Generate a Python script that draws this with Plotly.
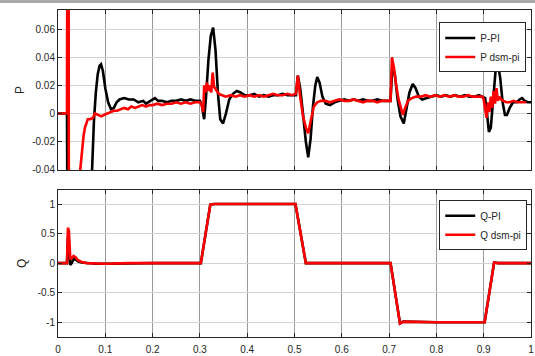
import plotly.graph_objects as go
from plotly.subplots import make_subplots

# ---------------- data ----------------
t_p_pi = [0, 0.019, 0.021, 0.03, 0.06, 0.068, 0.072, 0.076, 0.08, 0.084, 0.088, 0.091, 0.095, 0.1, 0.106, 0.112, 0.118,
          0.124, 0.13, 0.14, 0.15, 0.16, 0.17, 0.18, 0.186, 0.195, 0.205, 0.212, 0.22, 0.23, 0.24, 0.25, 0.26, 0.27,
          0.28, 0.29, 0.3, 0.304, 0.309, 0.313, 0.318, 0.323, 0.328, 0.333, 0.338, 0.343, 0.349, 0.355, 0.362, 0.37,
          0.378, 0.386, 0.395, 0.405, 0.415, 0.425, 0.435, 0.445, 0.455, 0.465, 0.475, 0.485, 0.495, 0.503, 0.507,
          0.512, 0.518, 0.524, 0.529, 0.534, 0.539, 0.544, 0.548, 0.553, 0.559, 0.566, 0.575, 0.585, 0.595, 0.605,
          0.615, 0.625, 0.635, 0.645, 0.655, 0.665, 0.675, 0.685, 0.695, 0.703, 0.707, 0.712, 0.718, 0.724, 0.731,
          0.737, 0.743, 0.75, 0.756, 0.763, 0.77, 0.78, 0.79, 0.8, 0.81, 0.82, 0.83, 0.84, 0.85, 0.86, 0.87, 0.88,
          0.89, 0.898, 0.903, 0.907, 0.911, 0.915, 0.92, 0.925, 0.93, 0.935, 0.94, 0.945, 0.949, 0.955, 0.962,
          0.97, 0.976, 0.981, 0.987, 0.993, 1.0]
p_pi = [0, 0, -0.15, -0.2, -0.2, -0.12, -0.04, -0.005, 0.015, 0.028, 0.034, 0.035, 0.03, 0.018, 0.008, 0.003, 0.004,
        0.008, 0.01, 0.011, 0.01, 0.01, 0.008, 0.009, 0.007, 0.009, 0.011, 0.009, 0.009, 0.008, 0.009, 0.009, 0.01,
        0.009, 0.01, 0.009, 0.009, 0.006, -0.004, 0.012, 0.038, 0.055, 0.061, 0.045, 0.015, -0.004, -0.007, 0.0,
        0.01, 0.014, 0.016, 0.015, 0.013, 0.013, 0.014, 0.012, 0.013, 0.012, 0.013, 0.013, 0.014, 0.013, 0.013,
        0.013, 0.027, 0.018, 0.0, -0.02, -0.031, -0.018, 0.005, 0.02, 0.026, 0.022, 0.012, 0.007, 0.006, 0.008,
        0.009, 0.01, 0.009, 0.01, 0.009, 0.01, 0.009, 0.009, 0.01, 0.009, 0.009, 0.009, 0.034, 0.028, 0.01, -0.002,
        -0.007, 0.003, 0.015, 0.021, 0.018, 0.012, 0.01, 0.011, 0.012, 0.013, 0.012, 0.013, 0.012, 0.013, 0.012,
        0.013, 0.012, 0.012, 0.013, 0.012, 0.011, 0.0, -0.013, -0.01, 0.01, 0.03, 0.036, 0.025, 0.008, -0.001,
        -0.001, 0.004, 0.008, 0.008, 0.01, 0.011, 0.009, 0.008, 0.008]

t_p_dsm = [0, 0.019, 0.0205, 0.022, 0.0235, 0.025, 0.04, 0.047, 0.051, 0.054, 0.057, 0.06, 0.063, 0.068, 0.074, 0.078,
           0.085, 0.092, 0.097, 0.103, 0.11, 0.118, 0.125, 0.132, 0.14, 0.148, 0.155, 0.163, 0.17, 0.178, 0.186,
           0.194, 0.2, 0.21, 0.22, 0.23, 0.24, 0.25, 0.26, 0.27, 0.28, 0.29, 0.3, 0.304, 0.307, 0.309, 0.312, 0.315,
           0.318, 0.321, 0.324, 0.327, 0.33, 0.334, 0.34, 0.347, 0.355, 0.365, 0.375, 0.385, 0.395, 0.405, 0.415,
           0.425, 0.435, 0.445, 0.455, 0.465, 0.475, 0.485, 0.495, 0.503, 0.507, 0.512, 0.518, 0.524, 0.529, 0.535,
           0.541, 0.548, 0.556, 0.565, 0.575, 0.585, 0.595, 0.605, 0.615, 0.625, 0.635, 0.645, 0.655, 0.665, 0.675,
           0.685, 0.695, 0.703, 0.706, 0.71, 0.715, 0.72, 0.725, 0.729, 0.734, 0.74, 0.748, 0.757, 0.767, 0.777,
           0.787, 0.797, 0.807, 0.817, 0.827, 0.837, 0.847, 0.857, 0.867, 0.877, 0.887, 0.897, 0.9, 0.903, 0.906,
           0.909, 0.912, 0.915, 0.918, 0.921, 0.924, 0.927, 0.93, 0.933, 0.937, 0.942, 0.948, 0.955, 0.963, 0.972,
           0.98, 0.99, 1.0]
p_dsm = [0, 0, 0.3, 0.3, -0.3, -0.3, -0.3, -0.04, -0.025, -0.016, -0.01, -0.006, -0.004, -0.004, -0.003, 0.0, -0.001,
         -0.002, -0.001, 0.0, 0.001, 0.002, 0.002, 0.003, 0.004, 0.003, 0.005, 0.004, 0.005, 0.006, 0.005, 0.006,
         0.006, 0.007, 0.006, 0.007, 0.007, 0.008, 0.007, 0.008, 0.007, 0.008, 0.008, 0.006, 0.001, 0.02, 0.015,
         0.022, 0.016, 0.02, 0.015, 0.029, 0.019, 0.017, 0.014, 0.013, 0.012, 0.013, 0.012, 0.013, 0.012, 0.013,
         0.012, 0.013, 0.012, 0.013, 0.014, 0.013, 0.013, 0.014, 0.013, 0.014, 0.027, 0.012, -0.002, -0.01, -0.014,
         -0.004, 0.005, 0.008, 0.009, 0.009, 0.008, 0.009, 0.01, 0.009, 0.009, 0.01, 0.009, 0.008, 0.009, 0.009,
         0.008, 0.009, 0.009, 0.009, 0.04, 0.033, 0.02, 0.01, 0.004, -0.001, 0.004, 0.009, 0.011, 0.012, 0.012,
         0.013, 0.012, 0.013, 0.012, 0.013, 0.012, 0.013, 0.012, 0.012, 0.013, 0.012, 0.012, 0.012, 0.01, 0.002,
         -0.003, 0.008, 0.001, 0.012, 0.004, 0.016, 0.007, 0.018, 0.009, 0.012, 0.01, 0.009, 0.008, 0.008, 0.009,
         0.008, 0.008, 0.008]

t_q_pi = [0, 0.019, 0.021, 0.023, 0.026, 0.029, 0.033, 0.037, 0.042, 0.05, 0.06, 0.08, 0.1, 0.15, 0.2, 0.25, 0.302,
          0.322, 0.33, 0.4, 0.502, 0.524, 0.53, 0.6, 0.703, 0.723, 0.73, 0.8, 0.902, 0.922, 0.93, 1.0]
q_pi = [0, 0, 0.45, 0.2, -0.03, 0.0, 0.07, 0.06, 0.03, 0.01, 0.0, -0.01, -0.01, 0.0, 0.0, 0.0, 0.0,
        0.99, 1.0, 1.0, 1.0, 0.0, 0.0, 0.0, 0.0, -1.02, -0.99, -1.0, -1.0, 0.01, 0.0, 0.0]

t_q_dsm = [0, 0.019, 0.021, 0.023, 0.026, 0.029, 0.033, 0.037, 0.042, 0.05, 0.06, 0.08, 0.1, 0.15, 0.2, 0.25, 0.302,
           0.322, 0.33, 0.4, 0.502, 0.524, 0.53, 0.6, 0.703, 0.723, 0.73, 0.8, 0.902, 0.922, 0.93, 1.0]
q_dsm = [0, 0, 0.6, 0.55, 0.08, 0.08, 0.12, 0.1, 0.05, 0.02, 0.0, -0.01, -0.01, 0.0, 0.0, 0.0, 0.0,
         0.99, 1.0, 1.0, 1.0, 0.0, 0.0, 0.0, 0.0, -1.02, -0.99, -1.0, -1.0, 0.01, 0.0, 0.0]

x_ticks = [0, 0.1, 0.2, 0.3, 0.4, 0.5, 0.6, 0.7, 0.8, 0.9, 1]
x_tick_labels = ["0", "0.1", "0.2", "0.3", "0.4", "0.5", "0.6", "0.7", "0.8", "0.9", "1"]
p_ticks = [-0.04, -0.02, 0, 0.02, 0.04, 0.06]
p_tick_labels = ["-0.04", "-0.02", "0", "0.02", "0.04", "0.06"]
q_ticks = [-1, -0.5, 0, 0.5, 1]
q_tick_labels = ["-1", "-0.5", "0", "0.5", "1"]

# ---------------- figure ----------------
fig = make_subplots(rows=2, cols=1, shared_xaxes=False, vertical_spacing=0.06)

fig.add_trace(go.Scatter(x=t_p_pi, y=p_pi, mode="lines", name="P-PI",
                         line=dict(color="black", width=2.6), legend="legend"), row=1, col=1)
fig.add_trace(go.Scatter(x=t_p_dsm, y=p_dsm, mode="lines", name="P dsm-pi",
                         line=dict(color="#ff0000", width=2.6), legend="legend"), row=1, col=1)
fig.add_trace(go.Scatter(x=t_q_pi, y=q_pi, mode="lines", name="Q-PI",
                         line=dict(color="black", width=2.6), legend="legend2"), row=2, col=1)
fig.add_trace(go.Scatter(x=t_q_dsm, y=q_dsm, mode="lines", name="Q dsm-pi",
                         line=dict(color="#ff0000", width=2.6), legend="legend2"), row=2, col=1)

font_main = dict(family="Liberation Sans, Arial, sans-serif", size=10, color="#262626")

axis_common = dict(showline=True, linecolor="#262626", linewidth=1, mirror="ticks",
                   ticks="inside", ticklen=4, tickcolor="#262626", zeroline=False,
                   showgrid=True, tickfont=font_main, automargin=False)

fig.update_xaxes(range=[0, 1], tickvals=x_ticks, ticktext=x_tick_labels,
                 gridcolor="#9a9a9a", gridwidth=1, **axis_common)
fig.update_xaxes(showticklabels=False, row=1, col=1)
fig.update_xaxes(ticklabelstandoff=3, row=2, col=1)
fig.update_yaxes(gridcolor="#d2d2d2", gridwidth=1, **axis_common)
fig.update_yaxes(range=[-0.04, 0.0735], tickvals=p_ticks, ticktext=p_tick_labels,
                 title=dict(text="P", font=dict(family="Liberation Sans, Arial", size=12, color="#262626"), standoff=4),
                 row=1, col=1)
fig.update_yaxes(range=[-1.25, 1.24], tickvals=q_ticks, ticktext=q_tick_labels,
                 title=dict(text="Q", font=dict(family="Liberation Sans, Arial", size=12, color="#262626"), standoff=8),
                 row=2, col=1)

fig.update_layout(
    width=535, height=356,
    margin=dict(l=58, r=4, t=10, b=19, autoexpand=False),
    paper_bgcolor="white", plot_bgcolor="white",
    font=font_main,
    showlegend=True,
    xaxis=dict(domain=[0, 1]), xaxis2=dict(domain=[0, 1]),
    yaxis=dict(domain=[0.511, 1.0]), yaxis2=dict(domain=[0.0, 0.45]),
    legend=dict(x=0.806, y=0.962, xanchor="left", yanchor="top", bgcolor="white",
                bordercolor="#262626", borderwidth=1, font=dict(family="Liberation Sans, Arial", size=10, color="#262626"),
                tracegroupgap=0, itemwidth=30),
    legend2=dict(x=0.806, y=0.418, xanchor="left", yanchor="top", bgcolor="white",
                 bordercolor="#262626", borderwidth=1, font=dict(family="Liberation Sans, Arial", size=10, color="#262626"),
                 tracegroupgap=0, itemwidth=30),
    shapes=[dict(type="rect", xref="paper", yref="paper", x0=-0.2, x1=1.1, y0=1.0 + 7 / 327, y1=1.1,
                 fillcolor="#a8a8a8", line=dict(width=0), layer="below")],
)

fig.write_html("out.html", config={"displayModeBar": False},
               post_script="document.body.style.margin='0';document.body.style.padding='0';")
